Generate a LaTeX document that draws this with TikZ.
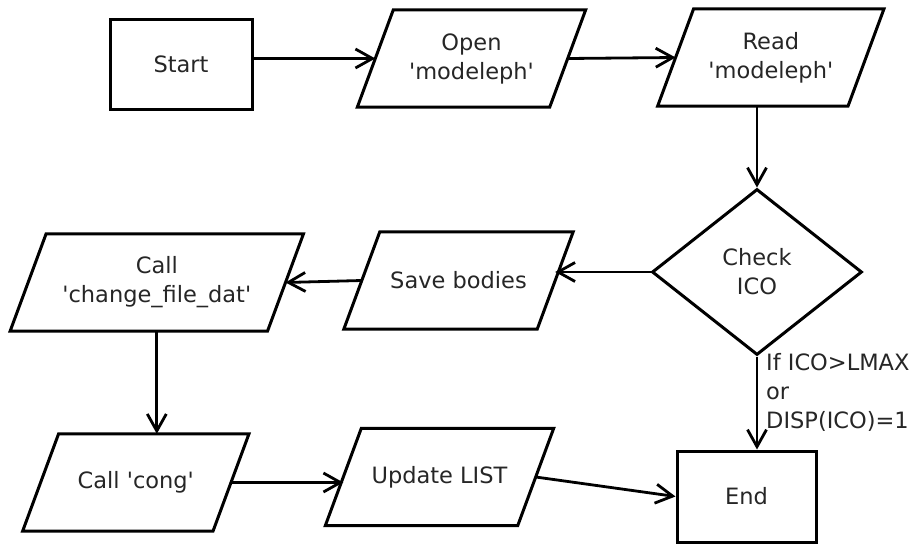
\documentclass[tikz,border=0pt]{standalone}
\usepackage{fontspec}
\setmainfont{DejaVu Sans}
\usetikzlibrary{shapes.geometric,arrows.meta}
\newcommand{\sq}{\textquotesingle}
\begin{document}
\begin{tikzpicture}[x=1pt,y=-1pt,
  every node/.style={font=\fontsize{22.5}{29}\selectfont, text=black!85},
  outline/.style={draw=black, line width=3pt, line join=miter},
  box/.style={outline, rectangle, inner sep=0pt, align=center},
  % input/output step: an invisible rectangle carrying the text, with the
  % slanted outline drawn around it (its east/west anchors sit on the sides)
  io/.style={rectangle, inner sep=0pt, align=center, minimum width=#1, minimum height=97pt,
    append after command={\pgfextra{\let\ionode\tikzlastnode
      \draw[outline] ([xshift=-18pt]\ionode.south west) -- ([xshift=-18pt]\ionode.south east)
        -- ([xshift=18pt]\ionode.north east) -- ([xshift=18pt]\ionode.north west) -- cycle;}}},
  decision/.style={outline, diamond, inner sep=0pt, align=center},
  flow/.style={line width=2.8pt, -{Straight Barb[length=17pt,width=19pt]}}
]
\useasboundingbox (0,0) rectangle (914,544);

% steps
\node[box, minimum width=142pt, minimum height=90pt] (start) at (181,64) {Start};
\node[io=192pt] (open) at (471.5,58.5) {Open\\\sq modeleph\sq};
\node[io=190pt] (read) at (770.8,57.5) {Read\\\sq modeleph\sq};
\node[decision, minimum width=210pt, minimum height=166pt] (check) at (757,272) {Check\\ICO};
\node[io=193pt] (save) at (458.5,280.5) {Save bodies};
\node[io=257pt] (change) at (156.8,282.5) {Call\\\sq change\_file\_dat\sq};
\node[io=190pt] (cong) at (135.8,482.5) {Call \sq cong\sq};
\node[io=192pt] (update) at (439.5,477) {Update LIST};
\node[box, minimum width=139pt, minimum height=91pt] (end) at (746.5,496.5) {End};

% condition on the exit branch
\node[anchor=west, align=left, inner sep=0pt] (cond) at (766,392) {If ICO>LMAX\\or\\DISP(ICO)=1};

% connectors
\draw[flow] (start.east |- open.west) -- (open.west);
\draw[flow] (open.east) -- (read.west);
\draw[flow] (check.north |- read.south) -- (check.north);
\draw[flow] (check.west) -- (check.west -| save.east);
\draw[flow] (save.west) -- (change.east);
\draw[flow] (change.south) -- (change.south |- cong.north);
\draw[flow] (cong.east) -- (cong.east -| update.west);
\draw[flow] (update.east) -- (end.west);
\draw[flow] (check.south) -- (check.south |- end.north);
\end{tikzpicture}
\end{document}
